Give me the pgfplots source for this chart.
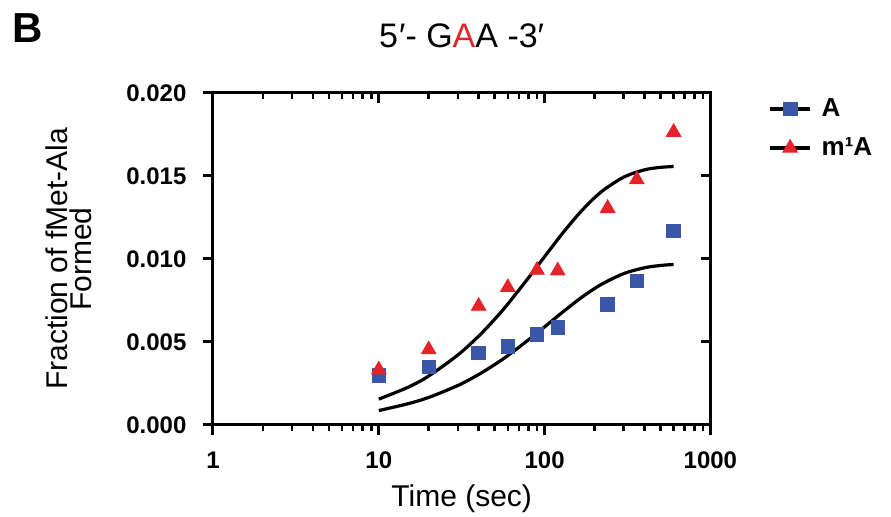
\documentclass[border=0pt]{standalone}
\usepackage{pgfplots}
\pgfplotsset{compat=1.18}
\usepackage{fontspec}
\setmainfont{Liberation Sans}
\definecolor{sqblue}{HTML}{3A56A8}
\definecolor{trired}{HTML}{E52329}

% measured point values
\pgfplotstableread{
t     y
10    0.00298
20    0.00349
40    0.00435
60    0.00474
90    0.00546
120   0.00587
240   0.00728
360   0.00867
600   0.01169
}\dataA
\pgfplotstableread{
t     y
10    0.00333
20    0.00454
40    0.00716
60    0.00829
90    0.00933
120   0.00929
240   0.01306
360   0.01478
600   0.01764
}\dataM

\pgfplotsset{
  /pgfplots/gaaframe/.style={
    scale only axis, width=248.7pt, height=166pt,
    xmin=1, xmax=1000,
    ymin=0, ymax=0.02,
    xtick={1,10,100,1000},
    minor xtick={2,3,4,5,6,7,8,9,20,30,40,50,60,70,80,90,200,300,400,500,600,700,800,900},
    ytick={0,0.005,0.01,0.015,0.02},
    scaled y ticks=false,
    axis line style={line width=1.5pt, line cap=rect},
    major tick style={line width=1.5pt, black},
    minor tick style={line width=1.3pt, black},
    major tick length=4.8pt, minor tick length=2.8pt,
  },
  /pgfplots/legimg/.style={legend image code/.code={
    \draw[black, line width=1.6pt] (0pt,0pt) -- (20pt,0pt);
    \draw[##1] plot coordinates {(10pt,0pt)};}},
}

\begin{document}
\begin{tikzpicture}
\path[use as bounding box] (-106.5pt,-46pt) rectangle (339pt,212.5pt);
\begin{semilogxaxis}[gaaframe,
  axis x line*=top, axis y line*=right, tick align=inside,
  xticklabels={}, yticklabels={}]
\end{semilogxaxis}
\begin{semilogxaxis}[gaaframe,
  axis x line*=bottom, axis y line*=left, tick align=outside,
  xticklabels={1,10,100,1000},
  /pgf/number format/assume math mode=true,
  /pgf/number format/fixed, /pgf/number format/fixed zerofill,
  /pgf/number format/precision=3,
  tick label style={font=\fontsize{12}{14}\selectfont\bfseries},
  xticklabel style={yshift=-5pt},
  yticklabel style={xshift=-5pt},
  xlabel={Time (sec)},
  xlabel style={font=\fontsize{15}{17}\selectfont, at={(axis description cs:0.5,-0.222)}, anchor=center},
  ylabel={Fraction of fMet-Ala\\[-5pt]Formed},
  ylabel style={font=\fontsize{15}{17}\selectfont, align=center, at={(axis description cs:-0.29,0.5)}, anchor=center},
  title={5\kern0.5pt′- G\textcolor{trired}{A}A -3′},
  title style={font=\fontsize{17}{19}\selectfont, at={(axis description cs:0.5,1.135)}, anchor=center},
  legend style={draw=none, fill=none, at={(axis description cs:1.104,0.893)}, anchor=west,
    font=\fontsize{13}{15}\selectfont\bfseries, row sep=5pt,
    /tikz/every odd column/.style={column sep=3pt}},
  legend cell align=left,
]
\addplot[black, line width=1.6pt, smooth, forget plot] coordinates {
(10,0.00087) (15,0.00128) (20,0.00166) (30,0.00238) (40,0.00304) (50,0.00364)
(60,0.00418) (80,0.00513) (100,0.00591) (130,0.00684) (170,0.00774) (220,0.00847)
(300,0.00912) (400,0.00947) (500,0.00961) (600,0.00967)};
\addplot[black, line width=1.6pt, smooth, forget plot] coordinates {
(10,0.00156) (15,0.00227) (20,0.00295) (30,0.00422) (40,0.00535) (50,0.00637)
(60,0.00729) (80,0.00887) (100,0.01014) (130,0.01162) (170,0.01298) (220,0.01405)
(300,0.01493) (400,0.01537) (500,0.01552) (600,0.01557)};
\addplot[only marks, mark=square*, mark size=3.4pt, color=sqblue, legimg] table[x=t,y=y] {\dataA};
\addplot[only marks, mark=triangle*, mark size=4.2pt, color=trired, legimg] table[x=t,y=y] {\dataM};
\legend{A, m¹A}
\end{semilogxaxis}
\node[font=\fontsize{21}{24}\selectfont\bfseries] at (-92.5pt,198.5pt) {B};
\end{tikzpicture}
\end{document}
